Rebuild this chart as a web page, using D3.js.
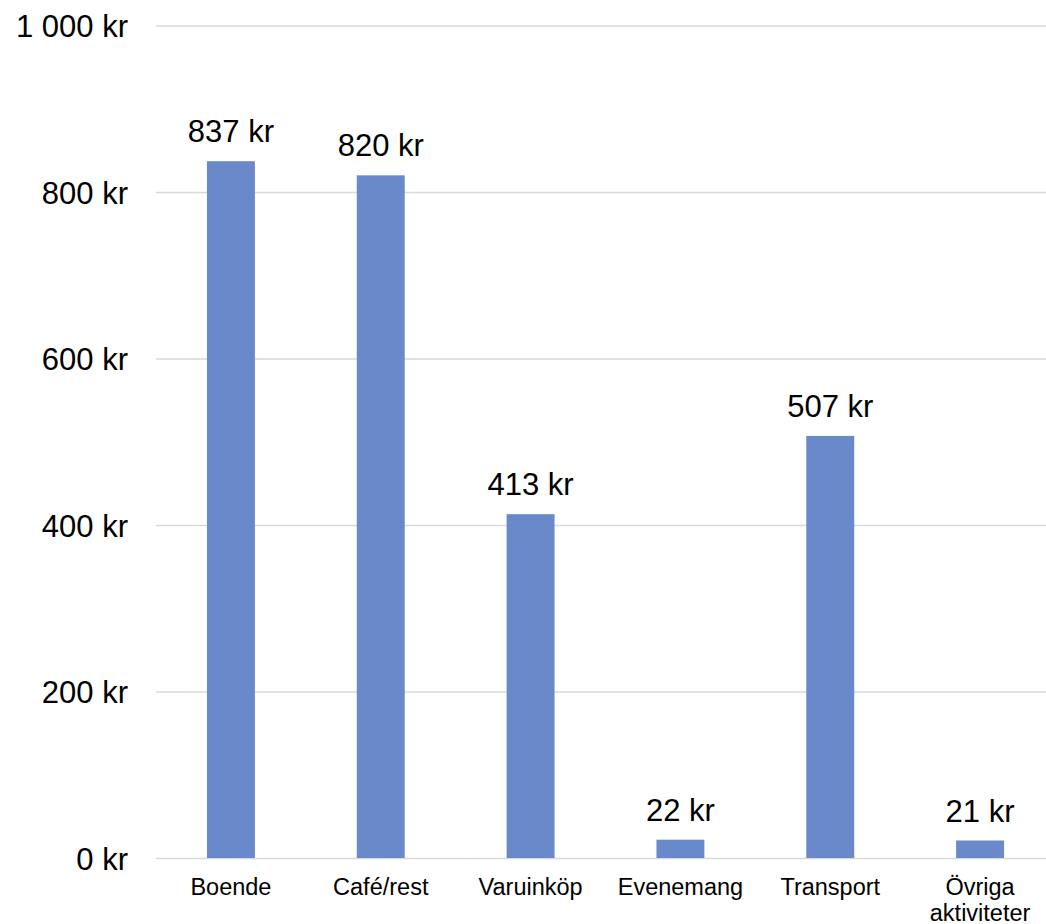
<!DOCTYPE html>
<html>
<head>
<meta charset="utf-8">
<script src="https://cdn.jsdelivr.net/npm/d3@7"></script>
<style>
  html, body { margin: 0; padding: 0; background: #fff; overflow: hidden; }
  svg { display: block; font-family: "Liberation Sans", Arial, sans-serif; }
</style>
</head>
<body>
<svg id="chart" width="1046" height="924"></svg>
<script>
// Average spend per category (kr)
const categories = ["Boende", "Café/rest", "Varuinköp", "Evenemang", "Transport", "Övriga aktiviteter"];
const values = [837, 820, 413, 22, 507, 21];
const yTicks = [0, 200, 400, 600, 800, 1000];

const svg = d3.select("#chart");
const plotLeft = 156, plotRight = 1055, plotTop = 25.5, plotBottom = 858;

const x = d3.scaleBand()
  .domain(categories)
  .range([plotLeft, plotRight])
  .paddingInner(0.68)
  .paddingOuter(0.34);

const y = d3.scaleLinear().domain([0, 1000]).range([plotBottom, plotTop]);

const fmt = v => d3.format(",")(v).replace(/,/g, " ") + " kr";

// Gridlines + y tick labels
const yAxis = svg.append("g")
  .attr("transform", `translate(${plotLeft},0)`)
  .call(d3.axisLeft(y).tickValues(yTicks).tickFormat(fmt).tickSize(-(plotRight - plotLeft)).tickPadding(28));
yAxis.select(".domain").remove();
yAxis.selectAll(".tick line").attr("stroke", "#d9d9d9").attr("stroke-width", 1.5);
yAxis.selectAll(".tick text")
  .attr("fill", "#000")
  .attr("font-size", 31)
  .attr("dy", 11);

// Bars
svg.append("g").selectAll("rect")
  .data(categories)
  .join("rect")
  .attr("x", d => x(d))
  .attr("width", x.bandwidth())
  .attr("y", (d, i) => y(values[i]))
  .attr("height", (d, i) => y(0) - y(values[i]))
  .attr("fill", "#6989cb");

// Value labels
svg.append("g").selectAll("text")
  .data(categories)
  .join("text")
  .attr("x", d => x(d) + x.bandwidth() / 2)
  .attr("y", (d, i) => y(values[i]) - 19)
  .attr("text-anchor", "middle")
  .attr("font-size", 31)
  .attr("fill", "#000")
  .text((d, i) => fmt(values[i]));

// Category labels (wrapped to the band step)
const xAxis = svg.append("g")
  .attr("transform", `translate(0,${plotBottom})`)
  .call(d3.axisBottom(x).tickSize(0).tickPadding(0));
xAxis.select(".domain").remove();
xAxis.selectAll(".tick text")
  .attr("fill", "#000")
  .attr("font-size", 23.5)
  .attr("y", 37)
  .attr("dy", 0)
  .each(function(d) {
    const t = d3.select(this);
    const words = d.split(" ");
    t.text(null);
    let line = [];
    let tspan = t.append("tspan").attr("x", 0).attr("y", 37);
    let lineNo = 0;
    words.forEach(w => {
      line.push(w);
      tspan.text(line.join(" "));
      if (tspan.node().getComputedTextLength() > x.step() && line.length > 1) {
        line.pop();
        tspan.text(line.join(" "));
        line = [w];
        lineNo++;
        tspan = t.append("tspan").attr("x", 0).attr("y", 37 + lineNo * 26).text(w);
      }
    });
  });
</script>
</body>
</html>
